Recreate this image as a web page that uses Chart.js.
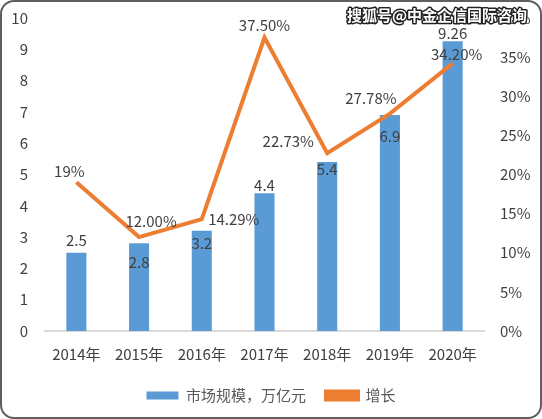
<!DOCTYPE html>
<html>
<head>
<meta charset="utf-8">
<script src="https://cdn.jsdelivr.net/npm/chart.js@4.4.0/dist/chart.umd.min.js"></script>
<style>
  html, body { margin: 0; padding: 0; background: #fff; }
  #wrap { position: relative; width: 542px; height: 419px; }
  #frame { position: absolute; left: 0; top: 0; width: 542px; height: 419px; box-sizing: border-box;
    border: 2px solid #5f5f5f; border-radius: 14px; pointer-events: none; }
</style>
</head>
<body>
<div id="wrap">
  <canvas id="c" width="542" height="419"></canvas>
  <div id="frame"></div>
</div>
<script>
const years = ['2014年', '2015年', '2016年', '2017年', '2018年', '2019年', '2020年'];
const marketSize = [2.5, 2.8, 3.2, 4.4, 5.4, 6.9, 9.26];
const growth = [19, 12.00, 14.29, 37.50, 22.73, 27.78, 34.20];
const growthLabels = ['19%', '12.00%', '14.29%', '37.50%', '22.73%', '27.78%', '34.20%'];
const leftTicks = [0, 10, 1];
const rightTicks = [0, 40, 5];

const FONT = '"Noto Sans CJK SC", "Noto Sans", sans-serif';
const TEXT = '#404040';

// label offsets (px) relative to bar top / line point
const barOffsets = [[0, -12], [0, 19], [0, 12], [0, -8], [0, 7], [0, 21], [0, -8]];
const lineOffsets = [[-7, -11], [12, -16], [32, 0], [0, -12], [-39, -12], [-19, -15], [4, -9]];

const labelPlugin = {
  id: 'labels',
  afterDatasetsDraw(chart) {
    const ctx = chart.ctx;
    ctx.save();
    ctx.font = '15px ' + FONT;
    ctx.fillStyle = TEXT;
    ctx.textAlign = 'center';
    ctx.textBaseline = 'middle';
    chart.getDatasetMeta(0).data.forEach((el, i) => {
      ctx.fillText(String(marketSize[i]), el.x + barOffsets[i][0], el.y + barOffsets[i][1]);
    });
    chart.getDatasetMeta(1).data.forEach((el, i) => {
      ctx.fillText(growthLabels[i], el.x + lineOffsets[i][0], el.y + lineOffsets[i][1]);
    });
    ctx.restore();
  },
  afterDraw(chart) {
    const ctx = chart.ctx;
    ctx.save();
    ctx.font = 'bold 15px ' + FONT;
    ctx.textAlign = 'right';
    ctx.textBaseline = 'middle';
    ctx.lineWidth = 3;
    ctx.strokeStyle = '#222';
    ctx.lineJoin = 'round';
    ctx.strokeText('搜狐号@中金企信国际咨询', 527, 15);
    ctx.fillStyle = '#fff';
    ctx.fillText('搜狐号@中金企信国际咨询', 527, 15);
    ctx.restore();
  }
};

new Chart(document.getElementById('c'), {
  data: {
    labels: years,
    datasets: [{
      type: 'bar',
      label: '市场规模，万亿元',
      data: marketSize,
      backgroundColor: '#5B9BD5',
      barPercentage: 0.32,
      categoryPercentage: 1,
      yAxisID: 'y',
      order: 2
    }, {
      type: 'line',
      label: '增长',
      data: growth,
      borderColor: '#ED7D31',
      backgroundColor: '#ED7D31',
      borderWidth: 4,
      pointRadius: 0,
      tension: 0,
      yAxisID: 'y1',
      order: 1
    }]
  },
  options: {
    responsive: false,
    animation: false,
    layout: { padding: { top: 4, bottom: 6 } },
    plugins: {
      tooltip: { enabled: false },
      legend: {
        position: 'bottom',
        labels: {
          boxWidth: 32,
          boxHeight: 8,
          padding: 20,
          color: '#595959',
          font: { size: 15, family: FONT },
          sort: (a, b) => a.datasetIndex - b.datasetIndex
        }
      }
    },
    scales: {
      x: {
        grid: { display: false },
        border: { color: '#d9d9d9', width: 2 },
        ticks: { color: TEXT, font: { size: 15, family: FONT }, padding: 6 },
        afterFit(scale) { scale.height = 37; }
      },
      y: {
        position: 'left',
        min: leftTicks[0], max: leftTicks[1],
        grid: { display: false },
        border: { display: false },
        ticks: { stepSize: leftTicks[2], color: TEXT, font: { size: 15, family: FONT }, padding: 9 },
        afterFit(scale) { scale.width = 45; }
      },
      y1: {
        position: 'right',
        min: rightTicks[0], max: rightTicks[1],
        grid: { display: false },
        border: { display: false },
        ticks: { stepSize: rightTicks[2], color: TEXT, font: { size: 15, family: FONT }, padding: 8,
          callback: v => v + '%' },
        afterFit(scale) { scale.width = 58; }
      }
    }
  },
  plugins: [labelPlugin]
});
</script>
</body>
</html>
